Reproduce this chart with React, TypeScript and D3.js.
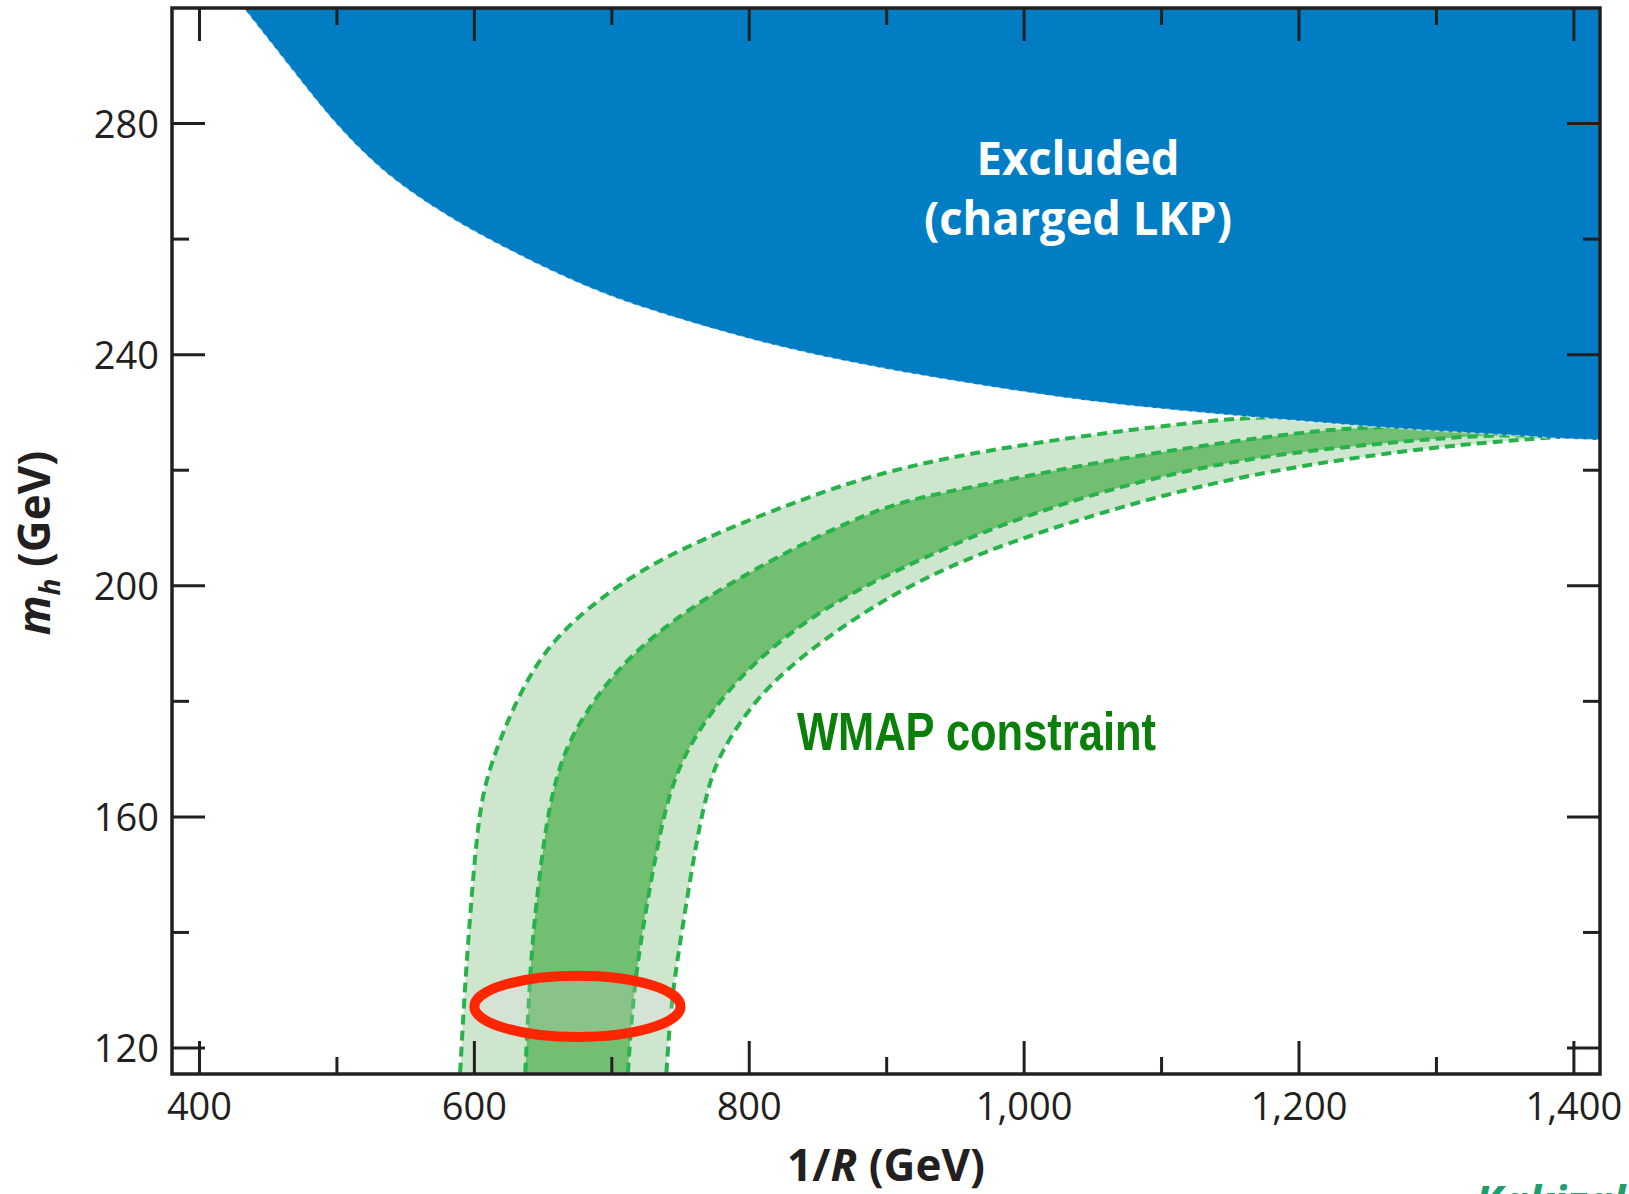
import React, { useMemo } from 'react';
import * as d3 from 'd3';

// ---------- data (1/R in GeV, m_h in GeV) ----------
const xDomain: [number, number] = [380, 1419];
const yDomain: [number, number] = [115.5, 300];

const xTickValues = [400, 500, 600, 700, 800, 900, 1000, 1100, 1200, 1300, 1400];
const xMajorTicks = [400, 600, 800, 1000, 1200, 1400];
const yTickValues = [120, 140, 160, 180, 200, 220, 240, 260, 280];
const yMajorTicks = [120, 160, 200, 240, 280];

// lower edge of the excluded (charged LKP) region
const excludedBoundary: [number, number][] = [
  [420, 304], [432, 300], [466, 289.8], [497, 280.3], [529, 272.6], [558, 267.4],
  [590, 262.6], [620, 258.8], [648, 255.4], [685, 251.4], [720, 248.3], [793, 243],
  [866, 239], [939, 235.8], [1041, 232.0], [1113, 230.3], [1186, 228.8],
  [1259, 227.4], [1320, 226.5], [1361, 226], [1385, 225.5], [1422, 225.2],
];

// WMAP band edges
const wmapOuterUpper: [number, number][] = [
  [589, 113], [592.5, 128], [596, 140.3], [601.9, 157.6], [607.6, 166.2],
  [623.5, 176.6], [647.7, 188.2], [681.7, 196.2], [730.2, 204.3], [802.9, 211.8],
  [875.7, 218.2], [924, 221.1], [967.8, 223.2], [1040.6, 225.9], [1113.3, 228.0],
  [1162, 229.2], [1230, 229.4], [1300, 228.2], [1390, 225.8],
];
const wmapInnerUpper: [number, number][] = [
  [636.5, 113], [639.5, 128], [642.6, 140.3], [651.3, 157.6], [658.6, 166.2],
  [669.5, 173.8], [696.3, 183.6], [730.2, 191.6], [779, 199.7], [851.5, 208.9],
  [895, 213.3], [924.2, 215.3], [967.8, 217.4], [1040.6, 220.8], [1113.3, 223.7],
  [1186, 226.1], [1250, 227.7], [1320, 227.3], [1390, 225.8],
];
const wmapInnerLower: [number, number][] = [
  [711, 113], [715, 128], [722, 140.3], [735, 157.6], [744.5, 166.2],
  [759.3, 173.8], [790.8, 184.1], [839.3, 193.9], [888, 200.5], [924.2, 204.5],
  [967.8, 209.2], [1040.6, 215.3], [1113.3, 219.8], [1186, 222.9], [1259, 224.6],
  [1300, 225.5], [1350, 226.2], [1390, 225.8],
];
const wmapOuterLower: [number, number][] = [
  [739, 113], [743, 128], [751, 140.3], [762.7, 157.6], [771.4, 166.2],
  [778.7, 170.9], [802.9, 180.1], [839.3, 188.2], [888, 196.2], [924.2, 200.9],
  [967.8, 205.7], [1040.6, 211.6], [1113.3, 216.5], [1186, 220.2], [1259, 222.8],
  [1320, 224.5], [1380, 225.6], [1390, 225.8],
];

// highlighted point (1/R, m_h) and half-widths
const highlightCenter: [number, number] = [675, 127.2];
const highlightHalfWidth: [number, number] = [75, 5.3];

// ---------- layout ----------
const W = 1629;
const H = 1194;
const PL = 172, PR = 1600, PT = 8, PB = 1074;
const AXIS = '#231f20';

export default function App() {
  const x = useMemo(() => d3.scaleLinear().domain(xDomain).range([PL, PR]), []);
  const y = useMemo(() => d3.scaleLinear().domain(yDomain).range([PB, PT]), []);

  const line = d3
    .line<[number, number]>()
    .x((d) => x(d[0]))
    .y((d) => y(d[1]))
    .curve(d3.curveBasis);

  const bandPath = (upper: [number, number][], lower: [number, number][]) => {
    const a = line(upper) as string;
    const b = line([...lower].reverse()) as string;
    return a + 'L' + b.slice(1) + 'Z';
  };

  const bluePath =
    (line(excludedBoundary) as string) +
    `L${x(1422)},${y(305)}L${x(420)},${y(305)}Z`;

  const fmt = d3.format(',');
  const dash = '10 6';
  const dashColor = '#27b24a';

  const cx = x(highlightCenter[0]);
  const cy = y(highlightCenter[1]);
  const rx = x(highlightCenter[0] + highlightHalfWidth[0]) - cx;
  const ry = cy - y(highlightCenter[1] + highlightHalfWidth[1]);

  return (
    <svg
      width={W}
      height={H}
      style={{ position: 'absolute', left: 0, top: 0, background: '#fff' }}
      fontFamily="'Open Sans', 'Noto Sans', sans-serif"
    >
      <defs>
        <clipPath id="plotClip">
          <rect x={PL} y={PT} width={PR - PL} height={PB - PT} />
        </clipPath>
      </defs>

      <g clipPath="url(#plotClip)">
        <path d={bandPath(wmapOuterUpper, wmapOuterLower)} fill="#cee6cd" />
        <path d={bandPath(wmapInnerUpper, wmapInnerLower)} fill="#72bf72" />
        {[wmapOuterUpper, wmapInnerUpper, wmapInnerLower, wmapOuterLower].map((c, i) => (
          <path
            key={i}
            d={line(c) as string}
            fill="none"
            stroke={dashColor}
            strokeWidth={4}
            strokeDasharray={dash}
          />
        ))}
        <path d={bluePath} fill="#007dc3" />
        <path
          d={line(excludedBoundary) as string}
          fill="none"
          stroke="#ffffff"
          strokeWidth={1.6}
          strokeDasharray="5 4"
          opacity={0.55}
        />
        <ellipse
          cx={cx}
          cy={cy}
          rx={rx}
          ry={ry}
          fill="rgba(250,215,245,0.18)"
          stroke="#ff2600"
          strokeWidth={10}
        />
      </g>

      {/* region labels */}
      <text
        x={1078}
        y={175}
        textAnchor="middle"
        fill="#ffffff"
        fontWeight={700}
        fontSize={47}
        textLength={203}
        lengthAdjust="spacingAndGlyphs"
      >
        Excluded
      </text>
      <text
        x={1078}
        y={235}
        textAnchor="middle"
        fill="#ffffff"
        fontWeight={700}
        fontSize={47}
        textLength={308}
        lengthAdjust="spacingAndGlyphs"
      >
        (charged LKP)
      </text>
      <text
        x={797}
        y={750}
        fill="#0a800a"
        fontWeight={700}
        fontSize={53}
        fontFamily="'Liberation Sans Narrow', 'Liberation Sans', Arial, sans-serif"
        textLength={359}
        lengthAdjust="spacingAndGlyphs"
      >
        WMAP constraint
      </text>

      {/* frame */}
      <rect x={PL} y={PT} width={PR - PL} height={PB - PT} fill="none" stroke={AXIS} strokeWidth={3.5} />

      {/* x ticks */}
      {xTickValues.map((v) => {
        const len = xMajorTicks.includes(v) ? 33 : 17;
        const xx = x(v);
        return (
          <g key={'x' + v} stroke={AXIS} strokeWidth={3}>
            <line x1={xx} x2={xx} y1={PB} y2={PB - len} />
            <line x1={xx} x2={xx} y1={PT} y2={PT + len} />
          </g>
        );
      })}
      {/* y ticks */}
      {yTickValues.map((v) => {
        const len = yMajorTicks.includes(v) ? 33 : 17;
        const yy = y(v);
        return (
          <g key={'y' + v} stroke={AXIS} strokeWidth={3}>
            <line x1={PL} x2={PL + len} y1={yy} y2={yy} />
            <line x1={PR} x2={PR - len} y1={yy} y2={yy} />
          </g>
        );
      })}

      {/* tick labels */}
      {xMajorTicks.map((v) => (
        <text key={'xl' + v} x={x(v)} y={1120} textAnchor="middle" fontSize={38} fill={AXIS}>
          {fmt(v)}
        </text>
      ))}
      {yMajorTicks.map((v) => (
        <text key={'yl' + v} x={159} y={y(v) + 14} textAnchor="end" fontSize={38} fill={AXIS}>
          {fmt(v)}
        </text>
      ))}

      {/* axis titles */}
      <text x={886} y={1181} textAnchor="middle" fontSize={44} fontWeight={700} fill={AXIS}>
        1/<tspan fontStyle="italic">R</tspan> (GeV)
      </text>
      <text
        transform="translate(50,543) rotate(-90)"
        textAnchor="middle"
        fontSize={44}
        fontWeight={700}
        fill={AXIS}
      >
        <tspan fontStyle="italic">m</tspan>
        <tspan fontStyle="italic" fontSize={28} dy={10}>h</tspan>
        <tspan dy={-10}> (GeV)</tspan>
      </text>

      {/* source credit (cut at page edge) */}
      <text x={1475} y={1218} fontSize={44} fontWeight={700} fontStyle="italic" fill="#1e9e6e">
        Kakizaki et al.
      </text>
    </svg>
  );
}
